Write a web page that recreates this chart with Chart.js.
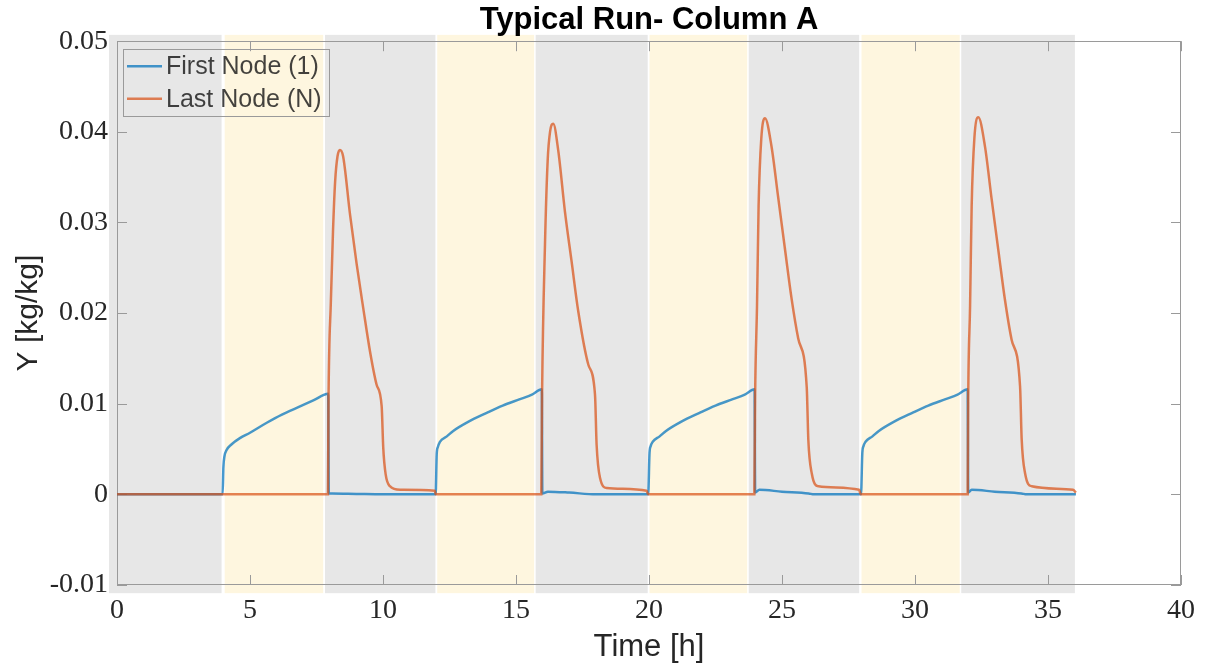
<!DOCTYPE html>
<html>
<head>
<meta charset="utf-8">
<title>Typical Run- Column A</title>
<script src="https://cdn.jsdelivr.net/npm/chart.js@4"></script>
<style>
  html, body { margin: 0; padding: 0; background: #fff; }
  canvas { display: block; }
</style>
</head>
<body>
<canvas id="runChart" width="1206" height="668"></canvas>
<script>
// Data
const xTicks = [0, 5, 10, 15, 20, 25, 30, 35, 40];
const yTicks = [-0.01, 0, 0.01, 0.02, 0.03, 0.04, 0.05];

// Phase bands [h]
const bandStart = [-0.32, 4.03, 7.80, 12.02, 15.72, 20.00, 23.73, 27.97, 31.72];
const bandEnd   = [ 3.95, 7.77, 11.99, 15.70, 19.97, 23.71, 27.92, 31.70, 36.03];
const bandPhase = ['rest', 'load', 'rest', 'load', 'rest', 'load', 'rest', 'load', 'rest'];
const bandLimits = [-0.0109, 0.0507];

// First Node (1)
const timeFirst = [
  0, 3.97, 4.0, 4.04, 4.12, 4.3, 4.62, 5.0, 5.63, 6.2, 6.88, 7.4, 7.94,
  7.96, 8.1, 9.0, 10.0, 11.98,
  12.02, 12.06, 12.14, 12.4, 12.64, 13.2, 13.9, 14.5, 15.15, 15.6, 15.97,
  15.99, 16.2, 17.0, 18.0, 19.97,
  20.02, 20.06, 20.14, 20.4, 20.64, 21.2, 21.9, 22.5, 23.15, 23.6, 23.97,
  23.99, 24.15, 25.0, 26.0, 26.2, 27.97,
  28.02, 28.06, 28.14, 28.4, 28.64, 29.2, 29.9, 30.5, 31.15, 31.6, 31.98,
  32.0, 32.13, 33.0, 34.0, 34.2, 36.05
];
const firstNode = [
  0, 0, 0.0030, 0.0042, 0.0049, 0.0055, 0.0062, 0.0068, 0.0079, 0.0088, 0.0097, 0.0104, 0.0111,
  0.0001, 0.0001, 0.00005, 0, 0,
  0.0045, 0.0052, 0.0058, 0.0064, 0.0070, 0.0080, 0.0090, 0.0098, 0.0105, 0.0110, 0.0116,
  0.0001, 0.0003, 0.0002, 0, 0,
  0.0046, 0.0053, 0.0058, 0.0064, 0.0070, 0.0080, 0.0090, 0.0098, 0.0105, 0.0110, 0.0116,
  0.0002, 0.0005, 0.0003, 0.0001, 0, 0,
  0.0046, 0.0053, 0.0058, 0.0064, 0.0070, 0.0080, 0.0090, 0.0098, 0.0105, 0.0110, 0.0116,
  0.0002, 0.0005, 0.0003, 0.0001, 0, 0
];

// Last Node (N)
const timeLast = [
  0, 7.93, 7.95, 8.04, 8.12, 8.2, 8.29, 8.38, 8.5, 8.76, 9.01, 9.26, 9.51, 9.76, 9.95,
  10.01, 10.1, 10.26, 10.64, 11.95, 11.98,
  15.95, 15.98, 16.09, 16.19, 16.28, 16.4, 16.59, 16.84, 17.09, 17.34, 17.72, 17.97,
  18.03, 18.16, 18.41, 19.91, 19.97,
  23.96, 23.99, 24.06, 24.12, 24.22, 24.36, 24.6, 24.86, 25.11, 25.36, 25.61, 25.93,
  25.99, 26.12, 26.37, 27.9, 27.96,
  31.98, 32.0, 32.07, 32.13, 32.23, 32.38, 32.63, 32.88, 33.13, 33.38, 33.63, 33.95,
  34.01, 34.14, 34.39, 35.94, 36.05
];
const lastNode = [
  0, 0, 0.0099, 0.0213, 0.0290, 0.0345, 0.0373, 0.0380, 0.0373, 0.0309, 0.0254, 0.0205, 0.0158, 0.0121, 0.0097,
  0.0051, 0.0022, 0.0009, 0.0005, 0.0004, 0,
  0, 0.0110, 0.0276, 0.0368, 0.0400, 0.0409, 0.0379, 0.0312, 0.0257, 0.0202, 0.0143, 0.0110,
  0.0055, 0.0018, 0.0007, 0.0004, 0,
  0, 0.0110, 0.0207, 0.0318, 0.0392, 0.0415, 0.0385, 0.0327, 0.0271, 0.0216, 0.0172, 0.0118,
  0.0060, 0.0023, 0.0009, 0.0005, 0,
  0, 0.0105, 0.0207, 0.0318, 0.0392, 0.0416, 0.0384, 0.0326, 0.0270, 0.0215, 0.0171, 0.0119,
  0.0061, 0.0023, 0.0009, 0.0005, 0.0002
];

const SERIF = "'Liberation Serif', 'Times New Roman', serif";
const SANS = "'Liberation Sans', Arial, Helvetica, sans-serif";
const TEXT = '#262626';
const AXIS = '#9a9a9a';
const phaseColor = { rest: '#e7e7e7', load: '#fef6df' };

const toPoints = (xs, ys) => xs.map((t, i) => ({ x: t, y: ys[i] }));

// Shaded phases, axis box with inward ticks, framed legend
const decorPlugin = {
    id: 'decor',
    beforeDraw(chart) {
        const { ctx, scales: { x, y } } = chart;
        const yTop = y.getPixelForValue(bandLimits[1]);
        const yBot = y.getPixelForValue(bandLimits[0]);
        ctx.save();
        bandStart.forEach((s, i) => {
            const x0 = x.getPixelForValue(s) + 0.5;
            const x1 = x.getPixelForValue(bandEnd[i]) - 0.5;
            ctx.fillStyle = phaseColor[bandPhase[i]];
            ctx.fillRect(x0, yTop, x1 - x0, yBot - yTop);
        });
        ctx.restore();
    },
    beforeDatasetsDraw(chart) {
        const { ctx, chartArea: a, scales: { x, y } } = chart;
        const tick = 10;
        ctx.save();
        ctx.strokeStyle = AXIS;
        ctx.lineWidth = 1;
        ctx.strokeRect(Math.round(a.left) + 0.5, Math.round(a.top) + 0.5,
            Math.round(a.right - a.left) - 1, Math.round(a.bottom - a.top) - 1);
        ctx.beginPath();
        x.ticks.forEach(t => {
            const px = Math.round(x.getPixelForValue(t.value)) + 0.5;
            ctx.moveTo(px, a.bottom); ctx.lineTo(px, a.bottom - tick);
            ctx.moveTo(px, a.top); ctx.lineTo(px, a.top + tick);
        });
        y.ticks.forEach(t => {
            const py = Math.round(y.getPixelForValue(t.value)) + 0.5;
            ctx.moveTo(a.left, py); ctx.lineTo(a.left + tick, py);
            ctx.moveTo(a.right, py); ctx.lineTo(a.right - tick, py);
        });
        ctx.stroke();
        ctx.restore();
    },
    afterDraw(chart) {
        const { ctx, chartArea: a } = chart;
        const bx = a.left + 6, by = a.top + 8, bw = 206, bh = 67;
        ctx.save();
        ctx.strokeStyle = AXIS;
        ctx.lineWidth = 1;
        ctx.strokeRect(Math.round(bx) + 0.5, Math.round(by) + 0.5, bw, bh);
        ctx.font = '25px ' + SANS;
        ctx.textBaseline = 'middle';
        ctx.textAlign = 'left';
        chart.data.datasets.forEach((ds, i) => {
            const ly = by + 17 + i * 32.5;
            ctx.strokeStyle = ds.borderColor;
            ctx.lineWidth = 2.5;
            ctx.beginPath();
            ctx.moveTo(bx + 4, ly);
            ctx.lineTo(bx + 39, ly);
            ctx.stroke();
            ctx.fillStyle = 'rgba(20, 20, 20, 0.8)';
            ctx.fillText(ds.label, bx + 43, ly + 1);
        });
        ctx.restore();
    }
};

const ctx = document.getElementById('runChart').getContext('2d');
new Chart(ctx, {
    type: 'line',
    data: {
        datasets: [{
            label: 'First Node (1)',
            data: toPoints(timeFirst, firstNode),
            borderColor: 'rgba(0, 114, 189, 0.72)',
            borderWidth: 2.5,
            pointRadius: 0,
            cubicInterpolationMode: 'monotone',
            order: 2
        }, {
            label: 'Last Node (N)',
            data: toPoints(timeLast, lastNode),
            borderColor: 'rgba(217, 83, 25, 0.72)',
            borderWidth: 2.5,
            pointRadius: 0,
            cubicInterpolationMode: 'monotone',
            order: 1
        }]
    },
    options: {
        responsive: false,
        animation: false,
        layout: { padding: { left: 0, right: 25, top: 0, bottom: 0 } },
        plugins: {
            legend: { display: false },
            tooltip: { enabled: false },
            title: {
                display: true,
                fullSize: false,
                text: 'Typical Run- Column A',
                color: '#000',
                font: { family: SANS, size: 31, weight: 'bold', lineHeight: 1.2 },
                padding: { top: 2, bottom: 2 }
            }
        },
        scales: {
            x: {
                type: 'linear',
                min: xTicks[0],
                max: xTicks[xTicks.length - 1],
                afterBuildTicks: s => { s.ticks = xTicks.map(v => ({ value: v })); },
                ticks: {
                    autoSkip: false,
                    maxRotation: 0,
                    padding: 9,
                    color: TEXT,
                    font: { family: SERIF, size: 28 },
                    callback: v => String(v)
                },
                grid: { display: false, drawTicks: false },
                border: { display: false },
                title: {
                    display: true,
                    text: 'Time [h]',
                    color: TEXT,
                    font: { family: SANS, size: 31 },
                    padding: { top: 0, bottom: 2 }
                },
                afterFit: s => { s.height = 83; }
            },
            y: {
                type: 'linear',
                min: yTicks[0],
                max: yTicks[yTicks.length - 1],
                afterBuildTicks: s => { s.ticks = yTicks.map(v => ({ value: v })); },
                ticks: {
                    autoSkip: false,
                    padding: 9,
                    color: TEXT,
                    font: { family: SERIF, size: 28 },
                    callback: v => (Math.abs(v) < 1e-9 ? '0' : (Math.round(v * 100) / 100).toFixed(2))
                },
                grid: { display: false, drawTicks: false },
                border: { display: false },
                title: {
                    display: true,
                    text: 'Y [kg/kg]',
                    color: TEXT,
                    font: { family: SANS, size: 30 },
                    padding: { top: 11, bottom: 0 }
                },
                afterFit: s => { s.width = 117; }
            }
        }
    },
    plugins: [decorPlugin]
});
</script>
</body>
</html>
